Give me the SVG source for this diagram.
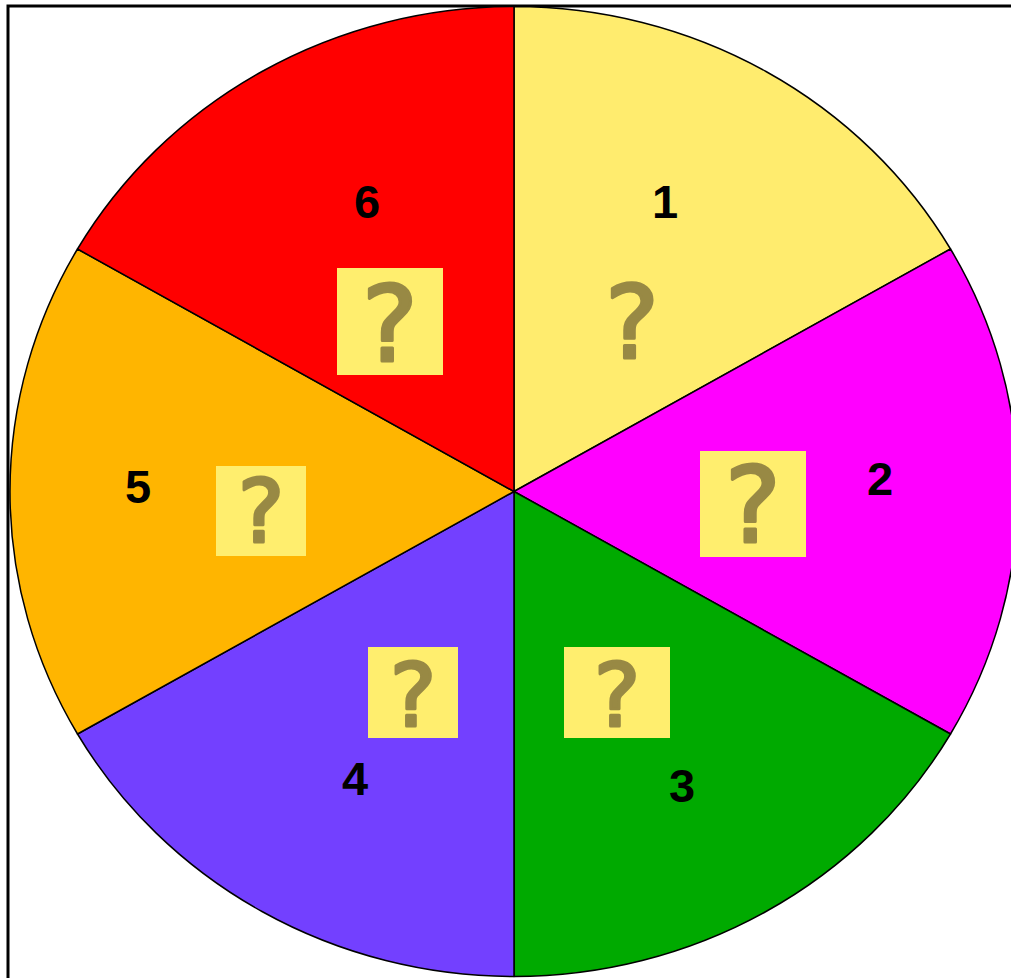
<svg xmlns="http://www.w3.org/2000/svg" width="1011" height="978" viewBox="0 0 1011 978">
<style>
.sec{stroke:#000;stroke-width:1.5;stroke-linejoin:round}
.box{fill:#FFEE6E}
.q{font-family:"DejaVu Sans",Verdana,sans-serif;font-weight:normal;fill:#988944;stroke:#988944;stroke-width:3;stroke-linejoin:round;text-anchor:middle}
.num{font-family:"Liberation Sans",Arial,sans-serif;font-weight:bold;font-size:47px;fill:#000;text-anchor:middle}
</style>
<rect x="0" y="0" width="1011" height="978" fill="#fff"/>
<rect x="8" y="6" width="1100" height="1100" fill="none" stroke="#000" stroke-width="3"/>
<g id="sector1">
<path class="sec" fill="#FFEC6E" d="M514 491.5 L514 6.5 A504 485 0 0 1 950.5 249 Z"/>
<text class="num" x="665" y="218" font-size="50">1</text>
<text class="q" x="632" y="358" font-size="102">?</text>
</g>
<g id="sector2">
<path class="sec" fill="#FF00FF" d="M514 491.5 L950.5 249 A504 485 0 0 1 950.5 734 Z"/>
<text class="num" x="880" y="495">2</text>
<rect class="box" x="700" y="451" width="106" height="106"/>
<text class="q" x="753" y="542" font-size="106">?</text>
</g>
<g id="sector3">
<path class="sec" fill="#00AA00" d="M514 491.5 L950.5 734 A504 485 0 0 1 514 976.5 Z"/>
<text class="num" x="682" y="802">3</text>
<rect class="box" x="564" y="647" width="106" height="91"/>
<text class="q" x="617" y="726" font-size="88">?</text>
</g>
<g id="sector4">
<path class="sec" fill="#7340FF" d="M514 491.5 L514 976.5 A504 485 0 0 1 77.5 734 Z"/>
<text class="num" x="355" y="795">4</text>
<rect class="box" x="368" y="647" width="90" height="91"/>
<text class="q" x="413" y="726" font-size="88">?</text>
</g>
<g id="sector5">
<path class="sec" fill="#FFB500" d="M514 491.5 L77.5 734 A504 485 0 0 1 77.5 249 Z"/>
<text class="num" x="138" y="503">5</text>
<rect class="box" x="216" y="466" width="90" height="90"/>
<text class="q" x="261" y="542" font-size="88">?</text>
</g>
<g id="sector6">
<path class="sec" fill="#FF0000" d="M514 491.5 L77.5 249 A504 485 0 0 1 514 6.5 Z"/>
<text class="num" x="367" y="218">6</text>
<rect class="box" x="337" y="268" width="106" height="107"/>
<text class="q" x="390" y="361" font-size="106">?</text>
</g>
<g id="connectors"></g>
</svg>
